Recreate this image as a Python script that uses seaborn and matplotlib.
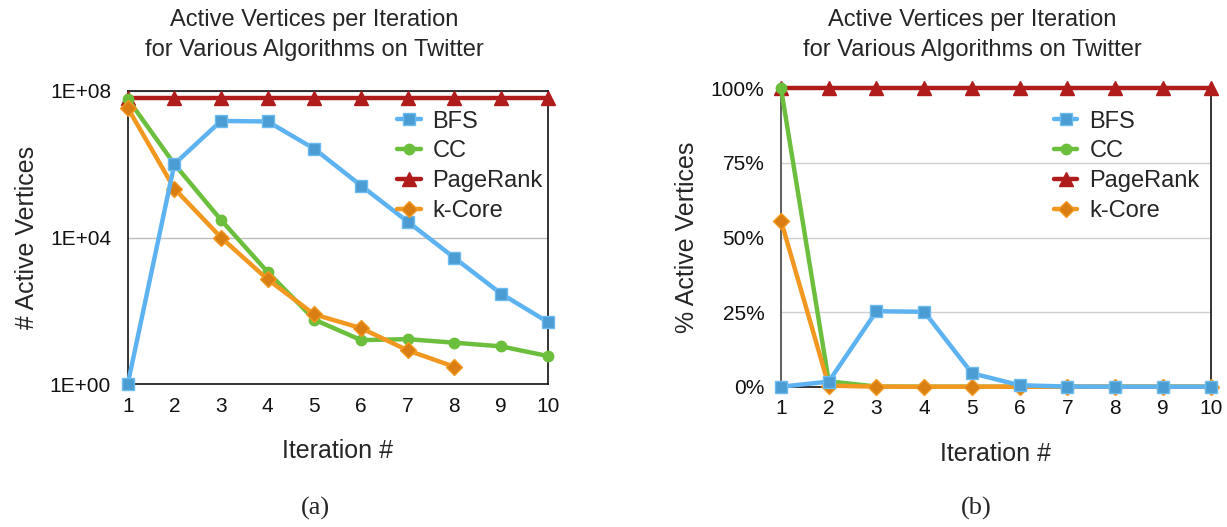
import numpy as np
import pandas as pd
import seaborn as sns
import matplotlib
matplotlib.use("Agg")
import matplotlib.pyplot as plt
from matplotlib.ticker import FixedLocator, FixedFormatter

sns.set_theme(style="white")
plt.rcParams["font.family"] = ["Liberation Sans", "DejaVu Sans"]

iterations = list(range(1, 11))

# Active vertex counts per iteration (Twitter graph)
bfs_count = [1, 1.0e6, 1.5e7, 1.45e7, 2.6e6, 2.6e5, 2.7e4, 2.8e3, 295, 50]
cc_count = [6.0e7, 1.0e6, 3.0e4, 1140, 58, 16, 17, 13.6, 10.8, 5.9]
pagerank_count = [6.2e7] * 10
kcore_count = [3.4e7, 2.15e5, 1.0e4, 720, 80, 34, 8.4, 3.0]

# Share of vertices active per iteration (%)
bfs_pct = [0.0, 1.7, 25.3, 25.1, 4.5, 0.5, 0.05, 0.0, 0.0, 0.0]
cc_pct = [100.0, 1.8, 0.05, 0.0, 0.0, 0.0, 0.0, 0.0, 0.0, 0.0]
pagerank_pct = [100.0] * 10
kcore_pct = [55.6, 0.35, 0.02, 0.0, 0.0, 0.0, 0.0, 0.0, 0.0, 0.0]

algorithms = ["BFS", "CC", "PageRank", "k-Core"]
styles = {
    "BFS": dict(color="#5DB3F2", marker="s", mfc="#4A9CD2", mec="#6CBBF0", ms=8),
    "CC": dict(color="#6CBF3C", marker="o", mfc="#6CBF3C", mec="#6CBF3C", ms=7.5),
    "PageRank": dict(color="#B01B1B", marker="^", mfc="#B01B1B", mec="#B01B1B", ms=9.5),
    "k-Core": dict(color="#F2971F", marker="D", mfc="#D97E12", mec="#F2971F", ms=8),
}

count_data = {"BFS": bfs_count, "CC": cc_count, "PageRank": pagerank_count, "k-Core": kcore_count}
pct_data = {"BFS": bfs_pct, "CC": cc_pct, "PageRank": pagerank_pct, "k-Core": kcore_pct}


def long_frame(data):
    rows = []
    for alg, vals in data.items():
        for it, v in zip(iterations, vals):
            rows.append({"Iteration": it, "Value": v, "Algorithm": alg})
    return pd.DataFrame(rows)


df_count = long_frame(count_data)
df_pct = long_frame(pct_data)

W, H = 1227, 527
fig = plt.figure(figsize=(W / 100, H / 100), dpi=100)


def px_axes(x0, x1, ytop, ybot):
    return fig.add_axes([x0 / W, 1 - ybot / H, (x1 - x0) / W, (ybot - ytop) / H])


ax1 = px_axes(127.7, 547.7, 90.7, 384.3)
ax2 = px_axes(781.0, 1210.7, 88.3, 386.7)

draw_order = ["PageRank", "CC", "k-Core", "BFS"]


def draw(ax, df, legend_anchor):
    for alg in draw_order:
        st = styles[alg]
        sub = df[df["Algorithm"] == alg]
        sns.lineplot(data=sub, x="Iteration", y="Value", ax=ax, color=st["color"],
                     linewidth=3.2, marker=st["marker"], markersize=st["ms"],
                     markerfacecolor=st["mfc"], markeredgecolor=st["mec"],
                     markeredgewidth=1.0, clip_on=False, label=alg, zorder=3)
    handles, labels = ax.get_legend_handles_labels()
    hmap = dict(zip(labels, handles))
    ax.legend([hmap[a] for a in algorithms], algorithms, frameon=False,
              fontsize=17, handlelength=1.0, handletextpad=0.5,
              labelspacing=0.33, loc="upper left", bbox_to_anchor=legend_anchor,
              borderaxespad=0.0, borderpad=0.0)


draw(ax1, df_count, (0.641, 0.932))
draw(ax2, df_pct, (0.635, 0.925))

title = "Active Vertices per Iteration\nfor Various Algorithms on Twitter"

# Left: log-scale counts
ax1.set_yscale("log")
ax1.set_ylim(1, 1e8)
ax1.set_xlim(1, 10)
ax1.yaxis.set_major_locator(FixedLocator([1, 1e4, 1e8]))
ax1.yaxis.set_major_formatter(FixedFormatter(["1E+00", "1E+04", "1E+08"]))
ax1.yaxis.set_minor_locator(FixedLocator([]))
ax1.set_ylabel("# Active Vertices", fontsize=18, labelpad=8)
ax1.grid(axis="y", color="#BDBDBD", linewidth=1.0)
for s in ax1.spines.values():
    s.set_color("#111111")
    s.set_linewidth(1.2)

# Right: percentage
ax2.set_ylim(0, 100)
ax2.set_xlim(1, 10)
ax2.set_yticks([0, 25, 50, 75, 100])
ax2.set_yticklabels(["0%", "25%", "50%", "75%", "100%"])
ax2.set_ylabel("% Active Vertices", fontsize=18, labelpad=8)
ax2.grid(axis="y", color="#CFCFCF", linewidth=1.0)
ax2.spines["top"].set_visible(False)
for name in ["left", "right", "bottom"]:
    ax2.spines[name].set_color("#111111")
    ax2.spines[name].set_linewidth(1.2)
ax2.spines["left"].set_color("#444444")

for ax in (ax1, ax2):
    ax.set_xticks(iterations)
    ax.set_xlabel("Iteration #", fontsize=18, labelpad=17)
    ax.tick_params(axis="both", labelsize=15, length=0, colors="#111111")
    ax.tick_params(axis="x", pad=9)
    ax.tick_params(axis="y", pad=12)
    ax.set_axisbelow(True)

fig.text(314 / W, 1 - 35 / H, title, fontsize=17, ha="center", va="center",
         linespacing=1.5)
fig.text(972 / W, 1 - 35 / H, title, fontsize=17, ha="center", va="center",
         linespacing=1.5)

fig.text(315 / W, 1 - 508 / H, "(a)", family=["Liberation Serif"], fontsize=19,
         ha="center", va="center")
fig.text(976 / W, 1 - 508 / H, "(b)", family=["Liberation Serif"], fontsize=19,
         ha="center", va="center")

fig.savefig("out.png", dpi=100, facecolor="white")
